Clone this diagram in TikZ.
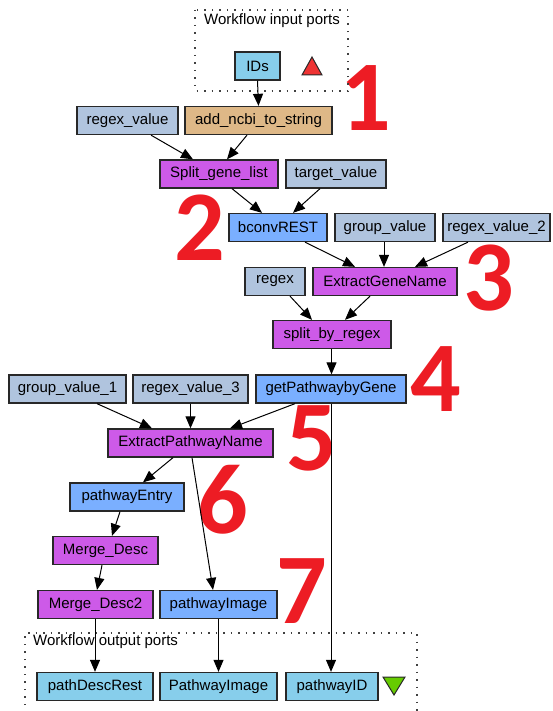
\documentclass[tikz,border=0pt]{standalone}
\usepackage{fontspec}
\setmainfont{Liberation Sans}
\newfontfamily\numfont{Carlito}
\usetikzlibrary{arrows.meta}

\definecolor{portfill}{RGB}{135,206,235}
\definecolor{constfill}{RGB}{176,196,222}
\definecolor{localfill}{RGB}{222,184,135}
\definecolor{beanfill}{RGB}{205,90,232}
\definecolor{restfill}{RGB}{122,175,255}
\definecolor{boxline}{RGB}{40,40,40}
\definecolor{stepred}{RGB}{237,28,36}
\definecolor{inred}{RGB}{238,51,51}
\definecolor{outgreen}{RGB}{102,204,0}

\tikzset{
  box/.style={draw=boxline, line width=1.3pt, inner sep=0pt, minimum height=28pt,
    font=\fontsize{15}{17}\selectfont},
  portbox/.style={box, fill=portfill},
  constbox/.style={box, fill=constfill},
  localbox/.style={box, fill=localfill},
  beanbox/.style={box, fill=beanfill},
  restbox/.style={box, fill=restfill},
  edge/.style={draw=black, line width=1pt, -{Triangle[length=12pt,width=10pt]}},
  cluster/.style={draw=black!75, line width=1.5pt, dash pattern=on 1.5pt off 6pt},
  clusterlabel/.style={anchor=west, inner sep=0pt, font=\fontsize{15}{17}\selectfont},
  stepnum/.style={anchor=base, inner sep=0pt, text=stepred,
    text height=0.62em, text depth=0pt,
    font=\numfont\bfseries\fontsize{100}{100}\selectfont},
}

\begin{document}
\begin{tikzpicture}[x=1pt, y=-1pt]
\useasboundingbox (0,0) rectangle (553,711);

% step numbers
\node[stepnum] (n1) at (366,131) {1};
\node[stepnum] (n2) at (200,260) {2};
\node[stepnum] (n3) at (489,310) {3};
\node[stepnum] (n4) at (436,411) {4};
\node[stepnum] (n5) at (312,470) {5};
\node[stepnum] (n6) at (223,533) {6};
\node[stepnum] (n7) at (302,623) {7};

% workflow port clusters
\draw[cluster] (195,10) rectangle (348,91);
\node[clusterlabel] (inlabel) at (204,21) {Workflow input ports};
\draw[cluster] (25,720) -- (25,633) -- (417,633) -- (417,720);
\node[clusterlabel] (outlabel) at (33,642) {Workflow output ports};

% nodes
\node[portbox, minimum width=45pt] (ids) at (257.5,66) {IDs};
\node[localbox, minimum width=147pt] (addncbi) at (258.5,120.5) {add\_ncbi\_to\_string};
\node[constbox, minimum width=101pt] (rv) at (127.5,120.5) {regex\_value};
\node[beanbox, minimum width=118pt] (split) at (219,174) {Split\_gene\_list};
\node[constbox, minimum width=100pt] (target) at (336,174) {target\_value};
\node[restbox, minimum width=98pt] (bconv) at (278,227.5) {bconvREST};
\node[constbox, minimum width=100pt] (gv) at (385,227.5) {group\_value};
\node[constbox, minimum width=107pt] (rv2) at (496.5,227.5) {regex\_value\_2};
\node[constbox, minimum width=60pt] (regex) at (275,281.5) {regex};
\node[beanbox, minimum width=144pt] (egn) at (385,281.5) {ExtractGeneName};
\node[beanbox, minimum width=118pt] (sbr) at (332,334.5) {split\_by\_regex};
\node[restbox, minimum width=150pt] (getp) at (331,389) {getPathwaybyGene};
\node[constbox, minimum width=117pt] (gv1) at (67.5,389) {group\_value\_1};
\node[constbox, minimum width=115pt] (rv3) at (190.5,389) {regex\_value\_3};
\node[beanbox, minimum width=165pt] (epn) at (190.5,443) {ExtractPathwayName};
\node[restbox, minimum width=114pt] (pentry) at (127,497) {pathwayEntry};
\node[beanbox, minimum width=105pt] (md) at (105.5,550.5) {Merge\_Desc};
\node[beanbox, minimum width=115pt] (md2) at (95.5,604.5) {Merge\_Desc2};
\node[restbox, minimum width=117pt] (pimg) at (218.5,604.5) {pathwayImage};
\node[portbox, minimum width=116pt] (pdr) at (95,686.5) {pathDescRest};
\node[portbox, minimum width=117pt] (pimgout) at (218.5,686.5) {PathwayImage};
\node[portbox, minimum width=92pt] (pid) at (332,686.5) {pathwayID};

% port markers
\filldraw[fill=inred, draw=boxline, line width=1pt]
  (302,75) -- (322,75) -- (312,57) -- cycle;
\filldraw[fill=outgreen, draw=boxline, line width=1pt]
  (383,677) -- (405,677) -- (394,695) -- cycle;

% connectors
\draw[edge] (ids.south) -- (addncbi.north);
\draw[edge] ([xshift=23.5pt]rv.south) -- ([xshift=-26pt]split.north);
\draw[edge] ([xshift=-11.5pt]addncbi.south) -- ([xshift=8pt]split.north);
\draw[edge] ([xshift=13pt]split.south) -- ([xshift=-16pt]bconv.north);
\draw[edge] ([xshift=-16pt]target.south) -- ([xshift=15pt]bconv.north);
\draw[edge] ([xshift=27pt]bconv.south) -- ([xshift=-30pt]egn.north);
\draw[edge] ([xshift=-1pt]gv.south) -- ([xshift=-1pt]egn.north);
\draw[edge] ([xshift=-28.5pt]rv2.south) -- ([xshift=30pt]egn.north);
\draw[edge] ([xshift=15pt]regex.south) -- ([xshift=-20pt]sbr.north);
\draw[edge] ([xshift=-15pt]egn.south) -- ([xshift=13pt]sbr.north);
\draw[edge] ([xshift=-0.5pt]sbr.south) -- ([xshift=0.5pt]getp.north);
\draw[edge] ([xshift=29.5pt]gv1.south) -- ([xshift=-38.5pt]epn.north);
\draw[edge] (rv3.south) -- (epn.north);
\draw[edge] ([xshift=-36pt]getp.south) -- ([xshift=39.5pt]epn.north);
\draw[edge] (getp.south) -- ([xshift=-1pt]pid.north);
\draw[edge] ([xshift=-17.5pt]epn.south) -- ([xshift=16pt]pentry.north);
\draw[edge] ([xshift=1.5pt]epn.south) -- ([xshift=-5.5pt]pimg.north);
\draw[edge] ([xshift=-7pt]pentry.south) -- ([xshift=6.5pt]md.north);
\draw[edge] ([xshift=-3.5pt]md.south) -- ([xshift=1.5pt]md2.north);
\draw[edge] ([xshift=-0.5pt]md2.south) -- (pdr.north);
\draw[edge] (pimg.south) -- (pimgout.north);
\end{tikzpicture}
\end{document}
